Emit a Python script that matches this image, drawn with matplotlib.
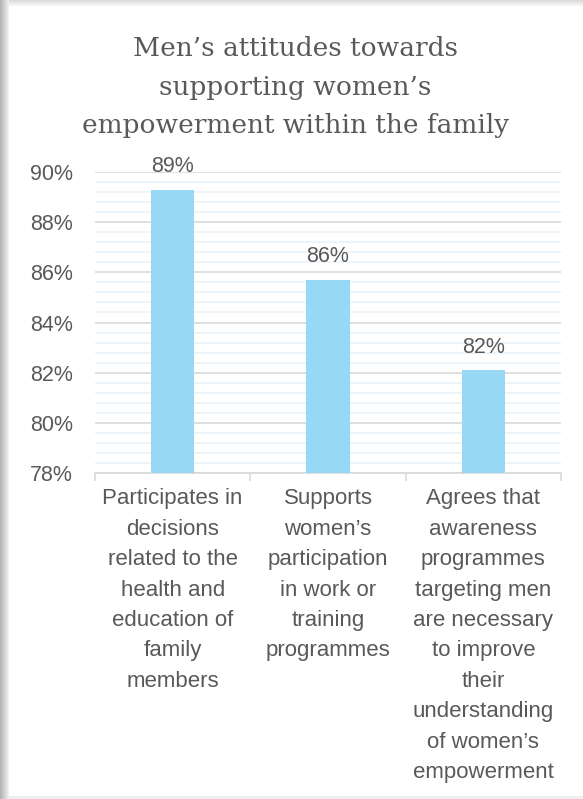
import matplotlib.pyplot as plt
import matplotlib.patches as mpatches
import numpy as np

# survey shares (percent)
categories = [
    'Participates in\ndecisions\nrelated to the\nhealth and\neducation of\nfamily\nmembers',
    'Supports\nwomen\u2019s\nparticipation\nin work or\ntraining\nprogrammes',
    'Agrees that\nawareness\nprogrammes\ntargeting men\nare necessary\nto improve\ntheir\nunderstanding\nof women\u2019s\nempowerment',
]
values = [89.3, 85.7, 82.1]
yticks = [78, 80, 82, 84, 86, 88, 90]

txt = '#595959'
plt.rcParams['font.family'] = ['Liberation Sans', 'DejaVu Sans']

fig = plt.figure(figsize=(5.83, 7.99), dpi=100)
fig.patch.set_facecolor('#EEEEEE')

# card with a soft shadow on the left
W, H = 583, 799
for i in range(9):
    g = 0.70 + 0.03 * i
    fig.patches.append(mpatches.Rectangle((i / W, 0), 1 / W, 1, transform=fig.transFigure,
                                          facecolor=(g, g, g), edgecolor='none', zorder=-2))
for i in range(6):
    g = 0.86 + 0.02 * i
    fig.patches.append(mpatches.Rectangle((9 / W, 1 - (i + 1) / H), 1, 1 / H, transform=fig.transFigure,
                                          facecolor=(g, g, g), edgecolor='none', zorder=-2))
fig.patches.append(mpatches.Rectangle((9 / W, 3 / H), 1, 1 - 9 / H, transform=fig.transFigure,
                                      facecolor='white', edgecolor='none', zorder=-1))

ax = fig.add_axes([95 / W, 1 - 473 / H, 466 / W, 301 / H])
ax.set_facecolor('none')
ax.set_zorder(1)

x = np.arange(len(values))
ax.bar(x, values, width=0.277, color='#97D9F5', zorder=3)
for xi, v in zip(x, values):
    ax.annotate(f'{v:.0f}%', (xi, v), xytext=(0, 9), textcoords='offset points',
                ha='center', va='bottom', fontsize=15.5, color=txt)

ax.set_ylim(78, 90)
ax.set_xlim(-0.5, 2.5)
ax.set_yticks(yticks)
ax.set_yticklabels([f'{t}%' for t in yticks], fontsize=15.5, color=txt)
ax.set_yticks(np.arange(78, 90.01, 0.4), minor=True)
ax.grid(axis='y', which='minor', color='#EAF4FB', linewidth=1.2, zorder=0)
ax.grid(axis='y', which='major', color='#D9D9D9', linewidth=1.2, zorder=1)
ax.tick_params(axis='y', which='both', length=0, pad=16)

ax.set_xticks(x)
ax.set_xticklabels(categories, fontsize=16, color=txt, linespacing=1.59, va='top')
ax.set_xticks([-0.5, 0.5, 1.5, 2.5], minor=True)
ax.tick_params(axis='x', which='major', length=0, pad=11)
ax.tick_params(axis='x', which='minor', length=6, color='#D9D9D9', width=1.2, direction='out')

for s in ['top', 'right', 'left']:
    ax.spines[s].set_visible(False)
ax.spines['bottom'].set_color('#D9D9D9')
ax.spines['bottom'].set_linewidth(1.2)

fig.text(0.5 + 4 / W, 1 - 87 / H,
         'Men\u2019s attitudes towards\nsupporting women\u2019s\nempowerment within the family',
         ha='center', va='center', fontsize=19, color=txt, family='DejaVu Serif', linespacing=1.68)

fig.savefig('out.png', dpi=100, facecolor=fig.get_facecolor())
